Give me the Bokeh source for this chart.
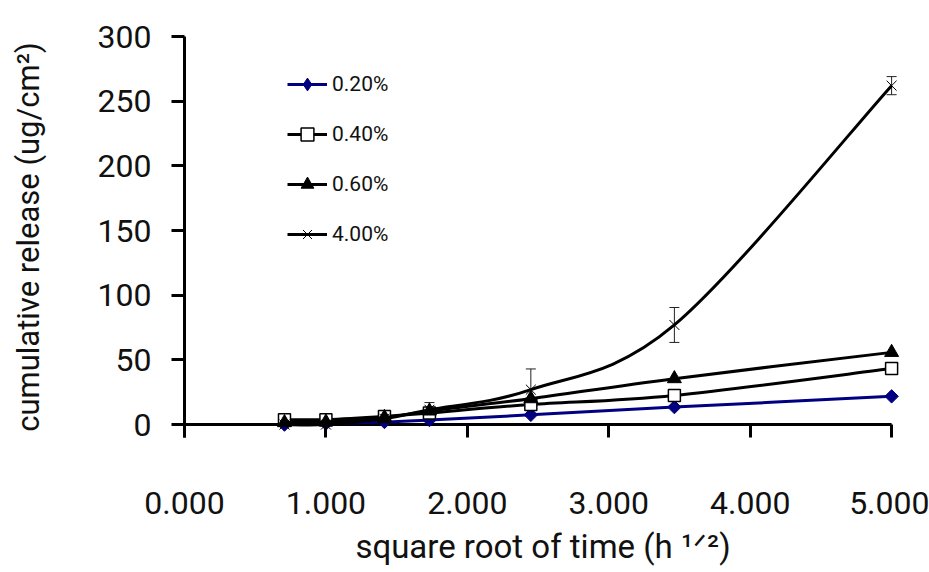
import numpy as np
from bokeh.plotting import figure
from bokeh.models import (FixedTicker, NumeralTickFormatter, Range1d, Whisker,
                          ColumnDataSource, TeeHead, Legend, LegendItem)
from bokeh.embed import file_html
from bokeh.resources import INLINE

# ---- data ----
x_vals = [0.707, 1.000, 1.414, 1.732, 2.449, 3.464, 5.000]
rel_020 = [0.0, 0.8, 2.0, 3.5, 7.5, 13.5, 21.8]
rel_040 = [3.8, 3.8, 6.2, 9.0, 15.5, 22.5, 43.3]
rel_060 = [1.5, 2.0, 5.5, 10.5, 20.0, 35.5, 55.8]
rel_400 = [0.0, 0.0, 4.5, 11.5, 27.0, 77.0, 262.0]
err_040 = [0.5, 0.5, 1.0, 1.0, 2.0, 3.0, 2.5]
err_400 = [0.5, 0.5, 1.0, 5.5, 16.0, 13.5, 7.0]
series_names = ["0.20%", "0.40%", "0.60%", "4.00%"]
x_ticks = [0, 1, 2, 3, 4, 5]
y_ticks = [0, 50, 100, 150, 200, 250, 300]

FONT = "Roboto"
TXT = "#111111"

p = figure(width=929, height=572, output_backend="svg", toolbar_location=None,
           x_range=Range1d(0, 5.07), y_range=Range1d(-10, 300),
           min_border_left=184, min_border_right=28, min_border_top=36,
           min_border_bottom=135, outline_line_color=None)
p.background_fill_color = "white"
p.border_fill_color = "white"
p.xgrid.visible = False
p.ygrid.visible = False

# x axis (labels far below, ticks hanging under the zero line)
xa = p.xaxis[0]
xa.ticker = FixedTicker(ticks=x_ticks)
xa.formatter = NumeralTickFormatter(format="0.000")
xa.axis_line_color = None
xa.major_tick_in = 13
xa.major_tick_out = 0
xa.major_tick_line_width = 3
xa.major_tick_line_color = "black"
xa.minor_tick_line_color = None
xa.major_label_standoff = 54
xa.major_label_text_font = FONT
xa.major_label_text_font_size = "32px"
xa.major_label_text_color = TXT
xa.axis_label = "square root of time (h \u00b9\u141f\u00b2)"
xa.axis_label_text_font = FONT
xa.axis_label_text_font_size = "33px"
xa.axis_label_text_font_style = "normal"
xa.axis_label_text_color = TXT
xa.axis_label_standoff = 10

ya = p.yaxis[0]
ya.ticker = FixedTicker(ticks=y_ticks)
ya.bounds = (-10, 300)
ya.axis_line_width = 3
ya.axis_line_color = "black"
ya.major_tick_in = 0
ya.major_tick_out = 13
ya.major_tick_line_width = 3
ya.major_tick_line_color = "black"
ya.minor_tick_line_color = None
ya.major_label_standoff = 20
ya.major_label_text_font = FONT
ya.major_label_text_font_size = "32px"
ya.major_label_text_color = TXT
ya.axis_label = "cumulative release (ug/cm\u00b2)"
ya.axis_label_text_font = FONT
ya.axis_label_text_font_size = "31px"
ya.axis_label_text_font_style = "normal"
ya.axis_label_text_color = TXT
ya.axis_label_standoff = 48

# zero line acting as x-axis line
p.line(x=[x_ticks[0], x_ticks[-1]], y=[0, 0], line_width=3, line_color="black")


def smooth(xs, ys):
    xs = np.asarray(xs, float)
    ys = np.asarray(ys, float)
    n = len(xs)
    px = np.concatenate([[xs[0]], xs, [xs[-1]]])
    py = np.concatenate([[ys[0]], ys, [ys[-1]]])
    d = dict(x0=[], y0=[], x1=[], y1=[], cx0=[], cy0=[], cx1=[], cy1=[])
    for i in range(n - 1):
        a, b, c, e = i, i + 1, i + 2, i + 3
        d["x0"].append(px[b]); d["y0"].append(py[b])
        d["x1"].append(px[c]); d["y1"].append(py[c])
        d["cx0"].append(px[b] + (px[c] - px[a]) / 6)
        d["cy0"].append(py[b] + (py[c] - py[a]) / 6)
        d["cx1"].append(px[c] - (px[e] - px[b]) / 6)
        d["cy1"].append(py[c] - (py[e] - py[b]) / 6)
    return ColumnDataSource(d)


series = [
    (rel_020, "#000080", dict(marker="square", angle=np.pi / 4, size=9.5,
                               fill_color="#000080", line_color="#000080"),
     dict(marker="diamond", size=11, fill_color="#000080", line_color="#000080")),
    (rel_040, "black", dict(marker="square", size=12, fill_color="white",
                             line_color="black", line_width=1.5), None),
    (rel_060, "black", dict(marker="triangle", size=14, fill_color="black",
                             line_color="black"), None),
    (rel_400, "black", dict(marker="x", size=14, line_color="black",
                             line_width=1), None),
]

items = []
for (ys, col, mk, leg_mk), name in zip(series, series_names):
    src = smooth(x_vals, ys)
    r1 = p.bezier(x0="x0", y0="y0", x1="x1", y1="y1", cx0="cx0", cy0="cy0",
                  cx1="cx1", cy1="cy1", source=src, line_color=col, line_width=3)
    r2 = p.scatter(x=x_vals, y=ys, **mk)
    if leg_mk is not None:
        # key marker: a diamond drawn inside the first rotated-square point
        r2 = p.scatter(x=x_vals[:1], y=ys[:1], **leg_mk)
    items.append(LegendItem(label=name, renderers=[r1, r2]))

# error bars
for ys, es in [(rel_040, err_040), (rel_400, err_400)]:
    esrc = ColumnDataSource(dict(x=x_vals,
                                 upper=[y + e for y, e in zip(ys, es)],
                                 lower=[y - e for y, e in zip(ys, es)]))
    w = Whisker(source=esrc, base="x", upper="upper", lower="lower",
                line_color="#222222", line_width=1,
                upper_head=TeeHead(size=10, line_width=1, line_color="#222222"),
                lower_head=TeeHead(size=10, line_width=1, line_color="#222222"))
    p.add_layout(w)

legend = Legend(items=items, location=(103, 187), orientation="vertical",
                glyph_width=40, glyph_height=32, spacing=18, padding=0,
                margin=0, label_standoff=5, border_line_color=None,
                background_fill_alpha=0, label_text_font=FONT,
                label_text_font_size="21px", label_text_color=TXT)
p.add_layout(legend, "center")

open("out.html", "w").write(file_html(p, INLINE))
